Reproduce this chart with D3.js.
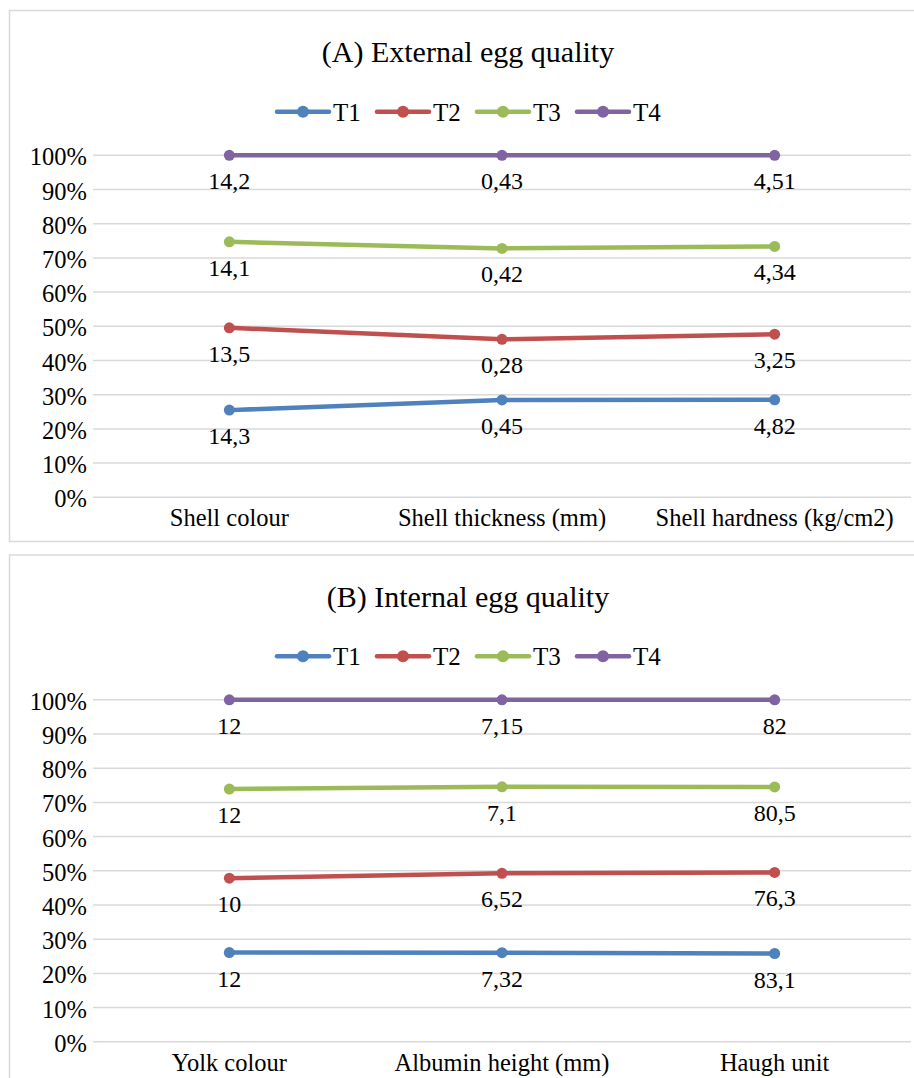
<!DOCTYPE html>
<html>
<head>
<meta charset="utf-8">
<script src="https://cdn.jsdelivr.net/npm/d3@7"></script>
<style>
  html, body { margin: 0; padding: 0; background: #fff; }
  svg { display: block; }
  text { font-family: "Liberation Serif", "Times New Roman", serif; fill: #000; }
</style>
</head>
<body>
<svg id="chart" width="914" height="1078"></svg>
<script>
// Treatment groups and their colours
const seriesNames = ["T1", "T2", "T3", "T4"];
const seriesColors = ["#4F81BD", "#C0504D", "#9BBB59", "#8064A2"];

// (A) External egg quality
const externalTitle = "(A) External egg quality";
const externalCategories = ["Shell colour", "Shell thickness (mm)", "Shell hardness (kg/cm2)"];
const externalT1 = [14.3, 0.45, 4.82];
const externalT2 = [13.5, 0.28, 3.25];
const externalT3 = [14.1, 0.42, 4.34];
const externalT4 = [14.2, 0.43, 4.51];

// (B) Internal egg quality
const internalTitle = "(B) Internal egg quality";
const internalCategories = ["Yolk colour", "Albumin height (mm)", "Haugh unit"];
const internalT1 = [12, 7.32, 83.1];
const internalT2 = [10, 6.52, 76.3];
const internalT3 = [12, 7.1, 80.5];
const internalT4 = [12, 7.15, 82];

// Percentage axis ticks
const yTicks = [0, 0.1, 0.2, 0.3, 0.4, 0.5, 0.6, 0.7, 0.8, 0.9, 1];

const svg = d3.select("#chart");
svg.append("rect").attr("width", 914).attr("height", 1078).attr("fill", "#fff");

const fmtValue = v => String(v).replace(".", ",");
const fmtPct = d3.format(".0%");

function drawPanel(top, title, categories, seriesValues) {
  const g = svg.append("g").attr("transform", `translate(0,${top})`);

  // Frame
  g.append("rect")
    .attr("x", 9.5).attr("y", 0.5)
    .attr("width", 910).attr("height", 531)
    .attr("fill", "none").attr("stroke", "#d9d9d9").attr("stroke-width", 1.5);

  // Title
  g.append("text")
    .attr("x", 468).attr("y", 52)
    .attr("text-anchor", "middle")
    .style("font-size", "30px")
    .text(title);

  // Legend
  const legendY = 101.7;
  const legendStep = 100;
  const legendX0 = 277;
  const lg = g.append("g");
  seriesNames.forEach((name, i) => {
    const x0 = legendX0 + i * legendStep;
    lg.append("line")
      .attr("x1", x0).attr("x2", x0 + 52)
      .attr("y1", legendY).attr("y2", legendY)
      .attr("stroke", seriesColors[i]).attr("stroke-width", 4.5)
      .attr("stroke-linecap", "round");
    lg.append("circle")
      .attr("cx", x0 + 26).attr("cy", legendY).attr("r", 6)
      .attr("fill", seriesColors[i]);
    lg.append("text")
      .attr("x", x0 + 56).attr("y", legendY + 9)
      .style("font-size", "25px")
      .text(name);
  });

  // Scales
  const plotLeft = 93, plotRight = 911;
  const x = d3.scaleBand().domain(categories).range([plotLeft, plotRight]).paddingInner(0).paddingOuter(0);
  const xc = c => x(c) + x.bandwidth() / 2;
  const y = d3.scaleLinear().domain([0, 1]).range([487.3, 145.3]);

  // Gridlines
  g.append("g").selectAll("line").data(yTicks).join("line")
    .attr("x1", plotLeft).attr("x2", plotRight)
    .attr("y1", d => y(d)).attr("y2", d => y(d))
    .attr("stroke", "#d9d9d9").attr("stroke-width", 1.5);

  // Y axis labels
  g.append("g").selectAll("text").data(yTicks).join("text")
    .attr("x", 87).attr("y", d => y(d) + 10)
    .attr("text-anchor", "end")
    .style("font-size", "24.5px")
    .text(d => fmtPct(d));

  // Category labels
  g.append("g").selectAll("text").data(categories).join("text")
    .attr("x", d => xc(d)).attr("y", y(0) + 29)
    .attr("text-anchor", "middle")
    .style("font-size", "24.5px")
    .text(d => d);

  // 100% stacked values
  const rows = categories.map((c, j) => {
    const r = { category: c };
    seriesNames.forEach((s, i) => { r[s] = seriesValues[i][j]; });
    return r;
  });
  const stacked = d3.stack().keys(seriesNames).offset(d3.stackOffsetExpand)(rows);

  const line = d3.line().x(d => xc(d.data.category)).y(d => y(d[1]));

  stacked.forEach((layer, i) => {
    g.append("path")
      .datum(layer)
      .attr("d", line)
      .attr("fill", "none")
      .attr("stroke", seriesColors[i])
      .attr("stroke-width", 4.5)
      .attr("stroke-linejoin", "round")
      .attr("stroke-linecap", "round");
    g.append("g").selectAll("circle").data(layer).join("circle")
      .attr("cx", d => xc(d.data.category))
      .attr("cy", d => y(d[1]))
      .attr("r", 5.5)
      .attr("fill", seriesColors[i]);
  });

  // Value labels under each point
  stacked.forEach((layer, i) => {
    g.append("g").selectAll("text").data(layer).join("text")
      .attr("x", d => xc(d.data.category))
      .attr("y", d => y(d[1]) + 34)
      .attr("text-anchor", "middle")
      .style("font-size", "24px")
      .text(d => fmtValue(d.data[seriesNames[i]]));
  });
}

drawPanel(10, externalTitle, externalCategories,
  [externalT1, externalT2, externalT3, externalT4]);
drawPanel(554.5, internalTitle, internalCategories,
  [internalT1, internalT2, internalT3, internalT4]);
</script>
</body>
</html>
